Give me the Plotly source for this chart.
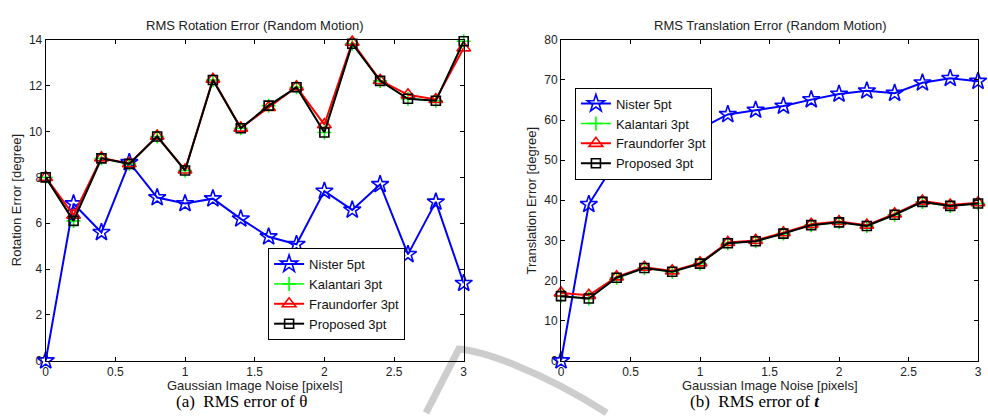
import plotly.graph_objects as go

noise = [0, 0.2, 0.4, 0.6, 0.8, 1.0, 1.2, 1.4, 1.6, 1.8, 2.0, 2.2, 2.4, 2.6, 2.8, 3.0]

# Rotation error [degree]
rot_nister = [0, 6.85, 5.6, 8.65, 7.12, 6.86, 7.07, 6.19, 5.41, 5.08, 7.40, 6.58, 7.69, 4.64, 6.93, 3.38]
rot_kalantari = [8.0, 6.1, 8.83, 8.59, 9.78, 8.30, 12.25, 10.14, 11.13, 11.93, 9.96, 13.83, 12.21, 11.43, 11.34, 13.94]
rot_fraundorfer = [8.0, 6.35, 8.85, 8.6, 9.8, 8.32, 12.28, 10.15, 11.05, 11.95, 10.3, 13.9, 12.23, 11.6, 11.4, 13.65]
rot_proposed = [8.0, 6.1, 8.83, 8.59, 9.78, 8.30, 12.25, 10.14, 11.13, 11.93, 9.96, 13.83, 12.21, 11.43, 11.34, 13.94]

# Translation error [degree]
tr_nister = [0, 39.0, 50.0, 54.5, 56.3, 57.8, 61.4, 62.5, 63.5, 65.1, 66.5, 67.3, 66.7, 69.3, 70.4, 69.7]
tr_kalantari = [16.1, 15.5, 20.7, 23.1, 22.2, 24.2, 29.3, 29.8, 31.7, 33.8, 34.5, 33.6, 36.4, 39.6, 38.6, 39.2]
tr_fraundorfer = [16.9, 16.3, 20.9, 23.3, 22.4, 24.4, 29.5, 30.0, 31.9, 34.0, 34.7, 33.8, 36.6, 39.8, 38.8, 39.4]
tr_proposed = [16.1, 15.5, 20.7, 23.1, 22.2, 24.2, 29.3, 29.8, 31.7, 33.8, 34.5, 33.6, 36.4, 39.6, 38.6, 39.2]

names = ["Nister 5pt", "Kalantari 3pt", "Fraundorfer 3pt", "Proposed 3pt"]
colors = ["#0000ff", "#00ff00", "#ff0000", "#000000"]
symbols = ["star-open", "cross-thin-open", "triangle-up-open", "square-open"]
sizes = [13, 10, 12, 9]

W, H = 988, 417
FONT = "Liberation Sans, Arial, Helvetica, sans-serif"

fig = go.Figure()

panels = [
    ([rot_nister, rot_kalantari, rot_fraundorfer, rot_proposed], "x", "y", "legend"),
    ([tr_nister, tr_kalantari, tr_fraundorfer, tr_proposed], "x2", "y2", "legend2"),
]
for series, xa, ya, lg in panels:
    for i, vals in enumerate(series):
        fig.add_trace(go.Scatter(
            x=noise, y=vals, name=names[i], mode="lines+markers",
            xaxis=xa, yaxis=ya, legend=lg, cliponaxis=False,
            line=dict(color=colors[i], width=2 if i != 1 else 1.5),
            marker=dict(symbol=symbols[i], size=sizes[i], color=colors[i],
                        line=dict(color=colors[i], width=1.6)),
        ))

def px_x(p):
    return p / W

def px_y(p):
    return 1 - p / H

axis_common = dict(
    showgrid=False, zeroline=False, showline=True, linecolor="black", linewidth=1,
    mirror="ticks", ticks="inside", ticklen=4, tickwidth=1, tickcolor="black",
    tickfont=dict(family=FONT, size=12, color="#222222"),
)

fig.update_layout(
    width=W, height=H,
    margin=dict(l=0, r=0, t=0, b=0),
    paper_bgcolor="white", plot_bgcolor="rgba(0,0,0,0)",
    font=dict(family=FONT, size=13, color="#222222"),
    showlegend=True,
    xaxis=dict(domain=[px_x(43), px_x(464)], range=[0, 3], tickvals=[0, 0.5, 1, 1.5, 2, 2.5, 3],
               ticktext=["0", "0.5", "1", "1.5", "2", "2.5", "3"], anchor="y", **axis_common),
    yaxis=dict(domain=[px_y(366), px_y(34)], range=[0, 14], dtick=2, anchor="x", **axis_common),
    xaxis2=dict(domain=[px_x(562), px_x(982)], range=[0, 3], tickvals=[0, 0.5, 1, 1.5, 2, 2.5, 3],
                ticktext=["0", "0.5", "1", "1.5", "2", "2.5", "3"], anchor="y2", **axis_common),
    yaxis2=dict(domain=[px_y(366), px_y(34)], range=[0, 80], dtick=10, anchor="x2", **axis_common),
    legend=dict(x=px_x(267), y=px_y(297), xanchor="left", yanchor="middle",
                bgcolor="white", bordercolor="black", borderwidth=1,
                font=dict(family=FONT, size=13, color="#111111"), tracegroupgap=0),
    legend2=dict(x=px_x(576), y=px_y(131), xanchor="left", yanchor="middle",
                 bgcolor="white", bordercolor="black", borderwidth=1,
                 font=dict(family=FONT, size=13, color="#111111"), tracegroupgap=0),
)

ann = []
def add_text(text, x, y, size=13, angle=0, family=FONT, color="#222222"):
    ann.append(dict(text=text, x=px_x(x), y=px_y(y), xref="paper", yref="paper",
                    showarrow=False, textangle=angle, xanchor="center", yanchor="middle",
                    borderpad=0, font=dict(family=family, size=size, color=color)))

add_text("RMS Rotation Error (Random Motion)", 253, 19)
add_text("RMS Translation Error (Random Motion)", 773, 19)
add_text("Gaussian Image Noise [pixels]", 254, 391.5)
add_text("Gaussian Image Noise [pixels]", 772, 391.5)
add_text("Rotation Error [degree]", 13, 200, angle=-90)
add_text("Translation Error [degree]", 532, 200, angle=-90)
SERIF = "Liberation Serif, Times New Roman, serif"
add_text("(a)  RMS error of θ", 240, 408, size=17, family=SERIF, color="#000000")
add_text("(b)  RMS error of <b><i>t</i></b>", 757, 408, size=17, family=SERIF, color="#000000")
fig.update_layout(annotations=ann)

# faint watermark arc in the background
path = "M {:.4f},{:.4f} L {:.4f},{:.4f} C {:.4f},{:.4f} {:.4f},{:.4f} {:.4f},{:.4f}".format(
    px_x(426), px_y(420), px_x(459), px_y(354), px_x(482), px_y(356),
    px_x(540), px_y(375), px_x(608), px_y(420))
fig.add_shape(type="path", path=path, xref="paper", yref="paper", layer="below",
              line=dict(color="rgb(205,205,205)", width=7))

fig.write_html("out.html", config={"displayModeBar": False},
               post_script="document.body.style.margin='0';document.body.style.overflow='hidden';")
